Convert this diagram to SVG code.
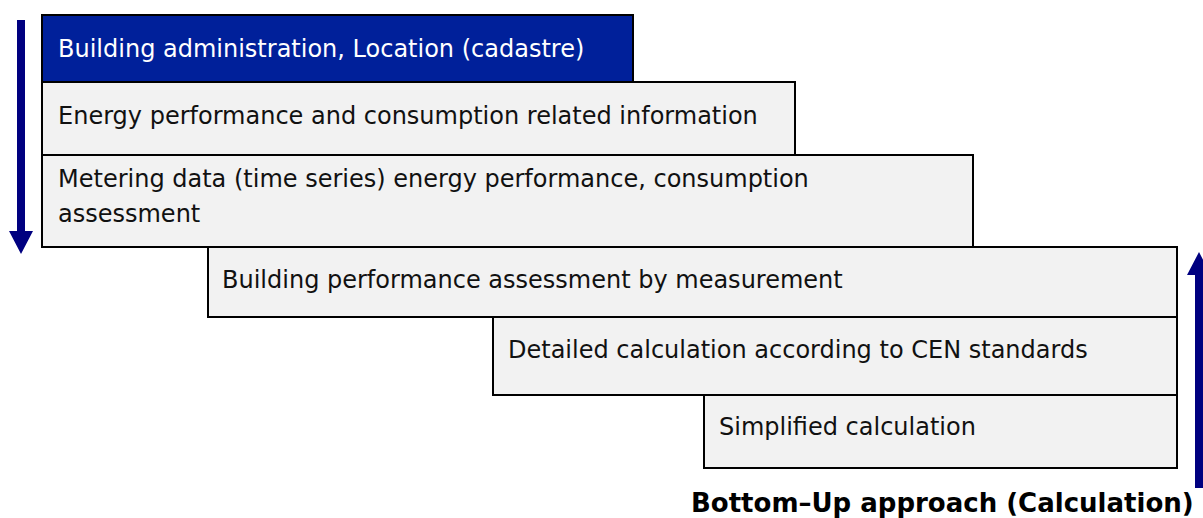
<svg xmlns="http://www.w3.org/2000/svg" width="1203" height="518" viewBox="0 0 1203 518">
  <style>
    .box { fill: #f2f2f2; stroke: #000; stroke-width: 2; }
    .head { fill: #00209a; }
    .lbl { font-family: "DejaVu Sans", Verdana, sans-serif; font-size: 24px; fill: #111; }
    .lbl-w { fill: #fff; }
    .arrow { fill: #000080; }
    .title { font-family: "DejaVu Sans", Verdana, sans-serif; font-size: 26px; font-weight: bold; fill: #000; }
  </style>

  <!-- direction arrows -->
  <g id="connectors">
    <path class="arrow" d="M17,20 H25 V231 H33 L21,254 L9,231 H17 Z"/>
    <path class="arrow" d="M1195,488 V275 H1187 L1199,252 L1211,275 H1203 V488 Z"/>
  </g>

  <!-- stacked layers: top-down -->
  <g id="n-admin">
    <rect class="box head" x="42" y="15" width="591" height="67"/>
    <text class="lbl lbl-w" x="58" y="57">Building administration, Location (cadastre)</text>
  </g>
  <g id="n-energy">
    <rect class="box" x="42" y="82" width="753" height="73"/>
    <text class="lbl" x="58" y="124">Energy performance and consumption related information</text>
  </g>
  <g id="n-metering">
    <rect class="box" x="42" y="155" width="931" height="92"/>
    <text class="lbl" x="58" y="187">Metering data (time series) energy performance, consumption</text>
    <text class="lbl" x="58" y="222">assessment</text>
  </g>

  <!-- stacked layers: bottom-up -->
  <g id="n-measure">
    <rect class="box" x="208" y="247" width="969" height="70"/>
    <text class="lbl" x="222" y="288">Building performance assessment by measurement</text>
  </g>
  <g id="n-detailed">
    <rect class="box" x="493" y="317" width="684" height="78"/>
    <text class="lbl" x="508" y="358">Detailed calculation according to CEN standards</text>
  </g>
  <g id="n-simplified">
    <rect class="box" x="704" y="395" width="473" height="73"/>
    <text class="lbl" x="719" y="435">Simplified calculation</text>
  </g>

  <text class="title" x="691" y="512">Bottom–Up approach (Calculation)</text>
</svg>
